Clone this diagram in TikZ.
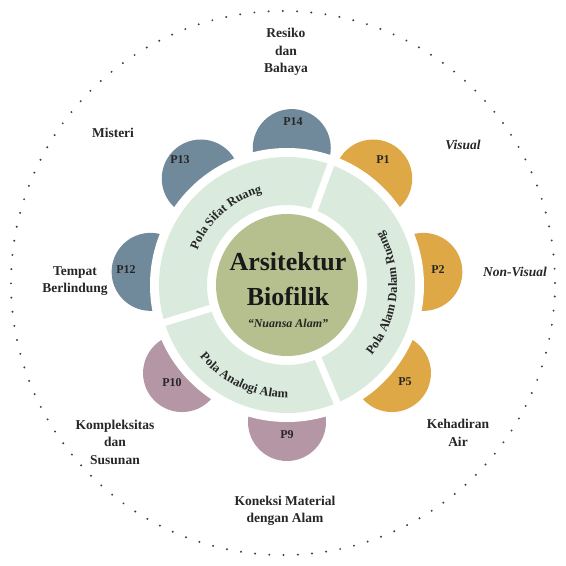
\documentclass[tikz,border=0pt]{standalone}
\usepackage{fontspec}
\setmainfont{Liberation Serif}
\usepackage{tikz}
\usetikzlibrary{decorations.text}

\definecolor{petalgold}{RGB}{222,168,70}
\definecolor{petalslate}{RGB}{112,138,156}
\definecolor{petalmauve}{RGB}{180,150,165}
\definecolor{ringgreen}{RGB}{218,235,222}
\definecolor{coreolive}{RGB}{182,192,143}
\newcommand{\ringfont}{\fontsize{12.5}{15}\selectfont\bfseries}

\tikzset{
  outerlabel/.style={font=\fontsize{13.5}{17.5}\selectfont\bfseries, align=center, text=black!85},
  petallabel/.style={font=\fontsize{12}{14}\selectfont\bfseries, text=black!85},
  ringtext/.style={decorate, decoration={text along path, text align=center, text color=black!85, text={|\ringfont|#1}}}
}

\begin{document}
\begin{tikzpicture}[x=1pt,y=1pt]
\useasboundingbox (-287,-281) rectangle (279,285);
% dotted outer circle
\draw[black!75, line width=2.2pt, line cap=round, dash pattern=on 0pt off 14.25pt] (-4,2) circle (272);
% petals
\foreach \ang/\col in {51/petalgold, 5.5/petalgold, -40/petalgold, -90/petalmauve, -140/petalmauve, 174.5/petalslate, 129/petalslate, 88/petalslate}
  \fill[\col] (\ang:137) circle (39);
\fill[white] (0,0) circle (137);
% ring
\fill[ringgreen, even odd rule] (0,0) circle (128) (0,0) circle (80);
\foreach \ang in {70,197,293}
  \draw[white, line width=7pt] (\ang:78) -- (\ang:131);
\path[ringtext={Pola Sifat Ruang}] (172:96) arc[start angle=172, end angle=92, radius=96];
\path[ringtext={Pola Alam Dalam Ruang}] (-55:110) arc[start angle=-55, end angle=45, radius=110];
\path[ringtext={Pola Analogi Alam}] (205:113) arc[start angle=205, end angle=285, radius=113];
% core
\fill[coreolive] (0,0) circle (71);
\node[font=\fontsize{26}{30}\selectfont\bfseries, text=black!90] (title) at (1,23) {Arsitektur};
\node[font=\fontsize{26}{30}\selectfont\bfseries, text=black!90] (subtitle) at (1,-11) {Biofilik};
\node[font=\fontsize{12}{14}\selectfont\bfseries\itshape, text=black!85] (motto) at (1,-38) {``Nuansa Alam''};
% petal labels
\node[petallabel] (p1) at (96,125) {P1};
\node[petallabel] (p2) at (151,15) {P2};
\node[petallabel] (p5) at (118,-97) {P5};
\node[petallabel] (p9) at (0,-150) {P9};
\node[petallabel] (p10) at (-115,-98) {P10};
\node[petallabel] (p12) at (-161,15) {P12};
\node[petallabel] (p13) at (-107,125) {P13};
\node[petallabel] (p14) at (6,163) {P14};
% outer labels
\node[outerlabel] (resiko) at (-1,233) {Resiko\\dan\\Bahaya};
\node[outerlabel] (misteri) at (-174,152) {Misteri};
\node[outerlabel, font=\fontsize{13.5}{17.5}\selectfont\bfseries\itshape] (visual) at (176,140) {Visual};
\node[outerlabel] (tempat) at (-212,4) {Tempat\\Berlindung};
\node[outerlabel, font=\fontsize{13.5}{17.5}\selectfont\bfseries\itshape] (nonvisual) at (228,13) {Non-Visual};
\node[outerlabel] (kompleks) at (-172,-157) {Kompleksitas\\dan\\Susunan};
\node[outerlabel] (air) at (171,-148) {Kehadiran\\Air};
\node[outerlabel] (material) at (-2,-226) {Koneksi Material\\dengan Alam};
\end{tikzpicture}
\end{document}
